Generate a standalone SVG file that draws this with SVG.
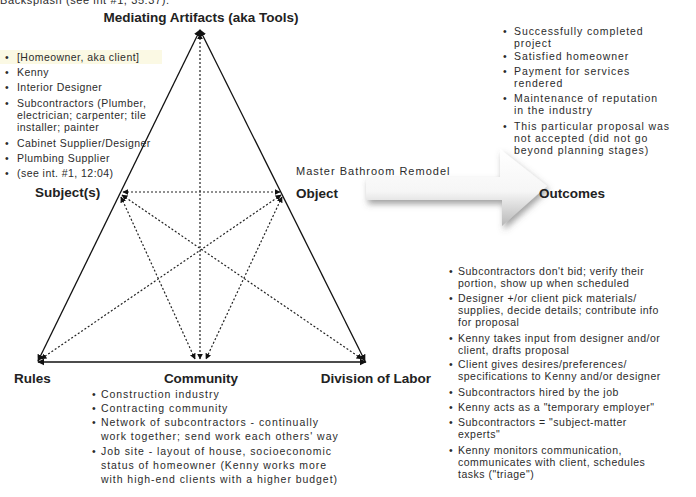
<svg xmlns="http://www.w3.org/2000/svg" width="696" height="497" viewBox="0 0 696 497">
<defs>
<style>
text{font-family:"Liberation Sans",Arial,sans-serif;fill:#2b2b2b}
.lbl{font-weight:bold;font-size:13.5px;fill:#222}
.li{font-size:10.5px;letter-spacing:0.45px}
.rt{font-size:10.5px;letter-spacing:0.9px}
.bt{font-size:10.5px;letter-spacing:0.5px}
.bc{font-size:10.5px;letter-spacing:0.95px}
.mb{font-size:11px;letter-spacing:1px}
.cut{font-size:11px;letter-spacing:0.6px}
.side{stroke:#111;stroke-width:1.3;fill:none}
.dot{stroke:#222;stroke-width:1.2;stroke-dasharray:2 2;fill:none}
</style>
<marker id="ah" viewBox="0 0 10 10" refX="9" refY="5" markerWidth="7" markerHeight="7" orient="auto-start-reverse" markerUnits="userSpaceOnUse">
<path d="M0,0 L10,5 L0,10 Z" fill="#111"/>
</marker>
<marker id="ahs" viewBox="0 0 10 10" refX="9" refY="5" markerWidth="6" markerHeight="6" orient="auto-start-reverse" markerUnits="userSpaceOnUse">
<path d="M0,0 L10,5 L0,10 Z" fill="#111"/>
</marker>
<linearGradient id="ag" x1="0" y1="0" x2="0" y2="1">
<stop offset="0" stop-color="#ffffff"/>
<stop offset="0.55" stop-color="#f6f6f6"/>
<stop offset="1" stop-color="#b8b8b8"/>
</linearGradient>
<filter id="sh" x="-20%" y="-40%" width="140%" height="180%">
<feDropShadow dx="2" dy="4" stdDeviation="3" flood-color="#555" flood-opacity="0.55"/>
</filter>
</defs>
<rect width="696" height="497" fill="#ffffff"/>

<text x="0" y="4" class="cut">Backsplash (see int #1, 35:37).</text>

<g id="connectors">
<line class="side" x1="200" y1="30" x2="38" y2="361" marker-start="url(#ah)" marker-end="url(#ah)"/>
<line class="side" x1="200" y1="30" x2="365" y2="361" marker-start="url(#ah)" marker-end="url(#ah)"/>
<line class="side" x1="38" y1="362" x2="366" y2="362" marker-start="url(#ah)" marker-end="url(#ah)"/>
<line class="dot" x1="123" y1="192" x2="280" y2="192" marker-start="url(#ahs)" marker-end="url(#ahs)"/>
<line class="dot" x1="200" y1="34" x2="200" y2="359" marker-start="url(#ahs)" marker-end="url(#ahs)"/>
<line class="dot" x1="121" y1="197" x2="195" y2="359" marker-start="url(#ahs)" marker-end="url(#ahs)"/>
<line class="dot" x1="282" y1="197" x2="206" y2="359" marker-start="url(#ahs)" marker-end="url(#ahs)"/>
<line class="dot" x1="122" y1="195" x2="362" y2="359" marker-start="url(#ahs)" marker-end="url(#ahs)"/>
<line class="dot" x1="281" y1="195" x2="41" y2="359" marker-start="url(#ahs)" marker-end="url(#ahs)"/>
</g>

<g id="arrow-outcomes">
<path d="M366,177 L500,177 L500,149 L547,186 L502,226 L502,200 L366,200 Z" fill="url(#ag)" filter="url(#sh)"/>
</g>

<g id="node-tools">
<text x="201" y="22" class="lbl" text-anchor="middle">Mediating Artifacts (aka Tools)</text>
</g>

<g id="node-subject">
<rect x="0" y="50" width="162" height="14" fill="#fbf9e4"/>
<g class="li">
<text x="5" y="61">•</text><text x="17" y="61">[Homeowner, aka client]</text>
<text x="5" y="76">•</text><text x="17" y="76">Kenny</text>
<text x="5" y="91">•</text><text x="17" y="91">Interior Designer</text>
<text x="5" y="107">•</text><text x="17" y="107">Subcontractors (Plumber,</text>
<text x="17" y="119">electrician; carpenter; tile</text>
<text x="17" y="131">installer; painter</text>
<text x="5" y="147">•</text><text x="17" y="147">Cabinet Supplier/Designer</text>
<text x="5" y="162">•</text><text x="17" y="162">Plumbing Supplier</text>
<text x="5" y="177">•</text><text x="17" y="177">(see int. #1, 12:04)</text>
</g>
<text x="35" y="197" class="lbl">Subject(s)</text>
</g>

<g id="node-object">
<text x="296" y="175" class="mb">Master Bathroom Remodel</text>
<text x="296" y="198" class="lbl">Object</text>
</g>

<g id="node-outcomes">
<g class="rt">
<text x="503" y="35">•</text><text x="514" y="35">Successfully completed</text>
<text x="514" y="47">project</text>
<text x="503" y="60">•</text><text x="514" y="60">Satisfied homeowner</text>
<text x="503" y="75">•</text><text x="514" y="75">Payment for services</text>
<text x="514" y="87">rendered</text>
<text x="503" y="102">•</text><text x="514" y="102">Maintenance of reputation</text>
<text x="514" y="114">in the industry</text>
<text x="503" y="130">•</text><text x="514" y="130">This particular proposal was</text>
<text x="514" y="142">not accepted (did not go</text>
<text x="514" y="154">beyond planning stages)</text>
</g>
<text x="539" y="198" class="lbl">Outcomes</text>
</g>

<g id="node-rules">
<text x="14" y="383" class="lbl">Rules</text>
</g>

<g id="node-community">
<text x="201" y="383" class="lbl" text-anchor="middle">Community</text>
<g class="bc">
<text x="92" y="398">•</text><text x="101" y="398">Construction industry</text>
<text x="92" y="412">•</text><text x="101" y="412">Contracting community</text>
<text x="92" y="426">•</text><text x="101" y="426">Network of subcontractors - continually</text>
<text x="101" y="440">work together; send work each others' way</text>
<text x="92" y="455">•</text><text x="101" y="455">Job site - layout of house, socioeconomic</text>
<text x="101" y="469">status of homeowner (Kenny works more</text>
<text x="101" y="483">with high-end clients with a higher budget)</text>
</g>
</g>

<g id="node-division">
<text x="376" y="383" class="lbl" text-anchor="middle">Division of Labor</text>
<g class="bt">
<text x="449" y="275">•</text><text x="458" y="275">Subcontractors don't bid; verify their</text>
<text x="458" y="287">portion, show up when scheduled</text>
<text x="449" y="302">•</text><text x="458" y="302">Designer +/or client pick materials/</text>
<text x="458" y="314">supplies, decide details; contribute info</text>
<text x="458" y="326">for proposal</text>
<text x="449" y="342">•</text><text x="458" y="342">Kenny takes input from designer and/or</text>
<text x="458" y="354">client, drafts proposal</text>
<text x="449" y="368">•</text><text x="458" y="368">Client gives desires/preferences/</text>
<text x="458" y="380">specifications to Kenny and/or designer</text>
<text x="449" y="396">•</text><text x="458" y="396">Subcontractors hired by the job</text>
<text x="449" y="411">•</text><text x="458" y="411">Kenny acts as a "temporary employer"</text>
<text x="449" y="426">•</text><text x="458" y="426">Subcontractors = "subject-matter</text>
<text x="458" y="438">experts"</text>
<text x="449" y="454">•</text><text x="458" y="454">Kenny monitors communication,</text>
<text x="458" y="466">communicates with client, schedules</text>
<text x="458" y="478">tasks ("triage")</text>
</g>
</g>
</svg>
